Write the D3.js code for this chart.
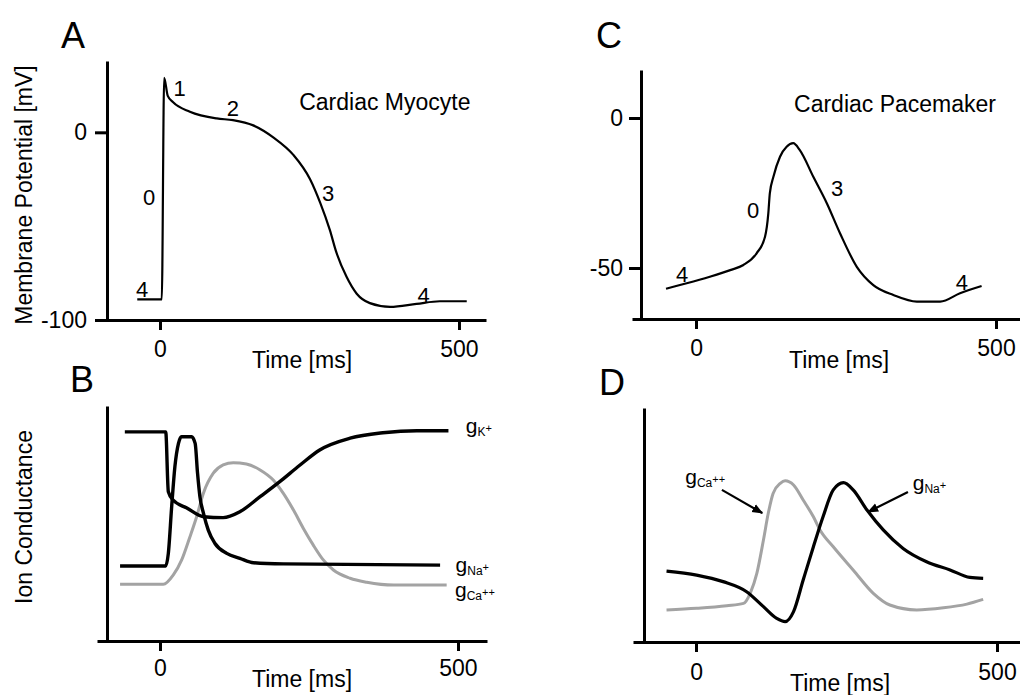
<!DOCTYPE html>
<html><head><meta charset="utf-8">
<script src="https://cdn.jsdelivr.net/npm/d3@7"></script>
<style>
body{margin:0;background:#fff}
svg{display:block;background:#fff}
text{font-family:"Liberation Sans",Arial,Helvetica,sans-serif;fill:#000}
</style>
</head><body>
<svg id="chart" width="1020" height="695"></svg>
<script>
// ---------- DATA ----------
// Panel A: cardiac myocyte action potential (time ms, membrane potential mV)
const myoTime = [-38, 3, 7, 13, 22, 50, 95, 122, 156, 190, 223, 251, 268, 284, 295, 312, 329, 351, 385, 429, 468, 513];
const myoVolt = [-89, -89, 29, 19.4, 16, 11, 7.4, 6.5, 3.7, -2.8, -12, -25, -37.6, -52, -64, -77, -86, -91, -93, -91.4, -90, -90];
const myoPhases = [
  {label: "1", t: 33, v: 23.6}, {label: "2", t: 122, v: 13}, {label: "3", t: 281, v: -32.3},
  {label: "0", t: -18, v: -34.5}, {label: "4", t: -30, v: -83.5}, {label: "4", t: 441, v: -86.7}
];

// Panel C: cardiac pacemaker action potential
const paceTime = [-50, -15.5, 23, 57, 79, 101, 115, 120.5, 123, 129, 140, 151, 162, 173, 195.5, 218, 240, 268, 295.5, 329, 368, 407, 440, 476];
const paceVolt = [-56.9, -55.1, -52.9, -50.7, -49, -45.1, -39.6, -31.8, -25.1, -19.6, -12.9, -9.6, -8.4, -10.7, -19.6, -28.4, -38.4, -49.6, -55.7, -59, -61.2, -61.2, -58.4, -56];
const pacePhases = [
  {label: "0", t: 95, v: -30.7}, {label: "3", t: 235, v: -23.3},
  {label: "4", t: -23, v: -52}, {label: "4", t: 443, v: -54.7}
];

// Panel B: myocyte ion conductances (relative units)
const bKTime  = [-59, 9.6, 14, 22, 45, 73, 106, 134, 168, 201, 235, 268, 319, 374, 431, 484];
const bKVal   = [0.89, 0.89, 0.635, 0.6, 0.566, 0.529, 0.525, 0.55, 0.614, 0.678, 0.749, 0.813, 0.863, 0.886, 0.895, 0.895];
const bNaTime = [-67, 9.5, 14, 19.6, 25, 31, 36, 53, 59, 63, 67, 73, 81, 92, 112, 134, 157, 207, 470];
const bNaVal  = [0.319, 0.319, 0.373, 0.572, 0.742, 0.841, 0.869, 0.869, 0.841, 0.714, 0.614, 0.543, 0.472, 0.416, 0.373, 0.352, 0.333, 0.328, 0.323];
const bCaTime = [-67, 5.6, 22.4, 36.4, 50.3, 61.5, 72.7, 89.5, 106, 123, 145, 168, 190, 207, 224, 240.6, 257, 274, 291, 319, 347, 392, 481];
const bCaVal  = [0.241, 0.241, 0.281, 0.345, 0.444, 0.529, 0.628, 0.714, 0.749, 0.759, 0.753, 0.728, 0.685, 0.628, 0.557, 0.479, 0.409, 0.345, 0.302, 0.267, 0.25, 0.238, 0.238];

// Panel D: pacemaker ion conductances (relative units)
const dNaTime = [-49, 1, 45, 84, 112, 134, 148, 162, 178, 195, 211, 228, 245, 261, 284, 311, 344, 383, 422, 455, 477];
const dNaVal  = [0.303, 0.286, 0.258, 0.215, 0.151, 0.101, 0.087, 0.13, 0.265, 0.407, 0.535, 0.65, 0.681, 0.65, 0.564, 0.479, 0.4, 0.343, 0.308, 0.276, 0.272];
const dCaTime = [-49, 1, 51, 79, 90, 101, 112, 120, 128, 140, 148, 162, 178, 195, 206, 228, 261, 294.5, 322, 366.6, 411, 450, 477];
const dCaVal  = [0.137, 0.144, 0.155, 0.165, 0.208, 0.293, 0.436, 0.55, 0.635, 0.678, 0.689, 0.671, 0.607, 0.535, 0.479, 0.407, 0.308, 0.208, 0.158, 0.137, 0.146, 0.162, 0.182];

const xTicks = [0, 500];
const yTicksA = [0, -100];
const yTicksC = [0, -50];

// ---------- DRAW ----------
const svg = d3.select("#chart");
const zip = (ts, vs) => ts.map((t, i) => [t, vs[i]]);
const plain = d => String(d);

function makePanel(o) {
  const g = svg.append("g");
  const x = d3.scaleLinear().domain(o.xDom).range(o.xRange);
  const y = d3.scaleLinear().domain(o.yDom).range(o.yRange);
  const xa = g.append("g").attr("transform", `translate(0,${o.xAxisY})`)
    .call(d3.axisBottom(x).tickValues(xTicks).tickSizeInner(10).tickSizeOuter(0).tickPadding(o.xPad).tickFormat(plain));
  xa.select(".domain").attr("stroke-width", 3);
  xa.selectAll(".tick line").attr("stroke-width", 3);
  xa.selectAll(".tick text").attr("font-size", 23).attr("font-family", null);
  const ya = g.append("g").attr("transform", `translate(${o.yAxisX},0)`)
    .call(d3.axisLeft(y).tickValues(o.yTicks || []).tickSizeInner(12).tickSizeOuter(0).tickPadding(o.yPad || 8).tickFormat(plain));
  ya.select(".domain").attr("stroke-width", 3);
  ya.selectAll(".tick line").attr("stroke-width", 3);
  ya.selectAll(".tick text").attr("font-size", 23).attr("font-family", null);
  g.append("text").attr("x", o.titleX).attr("y", o.titleY).attr("dy", "0.35em")
    .attr("text-anchor", "middle").attr("font-size", 23).text("Time [ms]");
  g.append("text").attr("x", o.letterX).attr("y", o.letterY).attr("font-size", 36).text(o.letter);
  return {g, x, y};
}

function drawLine(p, pts, color, width) {
  p.g.append("path").datum(pts)
    .attr("fill", "none").attr("stroke", color).attr("stroke-width", width)
    .attr("stroke-linejoin", "round").attr("stroke-linecap", "butt")
    .attr("d", d3.line().x(d => p.x(d[0])).y(d => p.y(d[1])).curve(d3.curveMonotoneX));
}

function gLabel(p, t, v, sub, sup) {
  const txt = p.g.append("text").attr("x", p.x(t)).attr("y", p.y(v));
  txt.append("tspan").attr("font-size", 21).text("g");
  txt.append("tspan").attr("font-size", 12).attr("dy", 3).text(sub);
  txt.append("tspan").attr("font-size", 11).attr("dy", -4).text(sup);
}

// Panel A
const A = makePanel({xDom: [-107, 545.2], xRange: [96, 486], yDom: [-100, 38], yRange: [320, 61],
  xAxisY: 320, yAxisX: 107, xPad: 11, yTicks: yTicksA, yPad: 8,
  titleX: 302, titleY: 360, letter: "A", letterX: 61, letterY: 48});
drawLine(A, zip(myoTime, myoVolt), "#000", 2.2);
A.g.selectAll(".phase").data(myoPhases).join("text")
  .attr("x", d => A.x(d.t)).attr("y", d => A.y(d.v)).attr("dy", "0.35em")
  .attr("text-anchor", "middle").attr("font-size", 22).text(d => d.label);
A.g.append("text").attr("x", A.x(376)).attr("y", A.y(16.2)).attr("dy", "0.35em")
  .attr("text-anchor", "middle").attr("font-size", 23).text("Cardiac Myocyte");
svg.append("text").attr("transform", "translate(24,195) rotate(-90)").attr("dy", "0.35em")
  .attr("text-anchor", "middle").attr("font-size", 23).text("Membrane Potential [mV]");

// Panel C
const C = makePanel({xDom: [-106.7, 540], xRange: [632, 1020], yDom: [-67, 16], yRange: [319, 70],
  xAxisY: 319, yAxisX: 641, xPad: 11, yTicks: yTicksC, yPad: 6,
  titleX: 839, titleY: 360, letter: "C", letterX: 596, letterY: 48});
drawLine(C, zip(paceTime, paceVolt), "#000", 2.2);
C.g.selectAll(".phase").data(pacePhases).join("text")
  .attr("x", d => C.x(d.t)).attr("y", d => C.y(d.v)).attr("dy", "0.35em")
  .attr("text-anchor", "middle").attr("font-size", 22).text(d => d.label);
C.g.append("text").attr("x", C.x(331.7)).attr("y", C.y(4.7)).attr("dy", "0.35em")
  .attr("text-anchor", "middle").attr("font-size", 23).text("Cardiac Pacemaker");

// Panel B
const B = makePanel({xDom: [-105.7, 548.7], xRange: [97, 487], yDom: [0, 1], yRange: [641, 406],
  xAxisY: 641, yAxisX: 107, xPad: 9,
  titleX: 302, titleY: 679, letter: "B", letterX: 70, letterY: 392});
drawLine(B, zip(bCaTime, bCaVal), "#a3a3a3", 3);
drawLine(B, zip(bKTime, bKVal), "#000", 3.4);
drawLine(B, zip(bNaTime, bNaVal), "#000", 3.4);
gLabel(B, 513, 0.885, "K", "+");
gLabel(B, 496, 0.293, "Na", "+");
gLabel(B, 495, 0.187, "Ca", "++");
svg.append("text").attr("transform", "translate(24,517) rotate(-90)").attr("dy", "0.35em")
  .attr("text-anchor", "middle").attr("font-size", 23).text("Ion Conductance");

// Panel D
const D = makePanel({xDom: [-104.7, 538.2], xRange: [633, 1020], yDom: [0, 1], yRange: [642, 408],
  xAxisY: 642, yAxisX: 644, xPad: 12,
  titleX: 840, titleY: 683, letter: "D", letterX: 599, letterY: 395});
drawLine(D, zip(dCaTime, dCaVal), "#a3a3a3", 3);
drawLine(D, zip(dNaTime, dNaVal), "#000", 3.2);
gLabel(D, -18, 0.675, "Ca", "++");
gLabel(D, 360, 0.65, "Na", "+");

// arrows
const defs = svg.append("defs");
defs.append("marker").attr("id", "arrow").attr("viewBox", "0 0 10 10").attr("refX", 9).attr("refY", 5)
  .attr("markerWidth", 5).attr("markerHeight", 5).attr("markerUnits", "strokeWidth").attr("orient", "auto")
  .append("path").attr("d", "M0,1 L10,5 L0,9 Z").attr("fill", "#000");
const arrows = [
  {t0: 43, v0: 0.65, t1: 110, v1: 0.551},
  {t0: 352, v0: 0.641, t1: 286, v1: 0.556}
];
D.g.selectAll(".arrow").data(arrows).join("line")
  .attr("x1", d => D.x(d.t0)).attr("y1", d => D.y(d.v0))
  .attr("x2", d => D.x(d.t1)).attr("y2", d => D.y(d.v1))
  .attr("stroke", "#000").attr("stroke-width", 2.2).attr("marker-end", "url(#arrow)");
</script>
</body></html>
